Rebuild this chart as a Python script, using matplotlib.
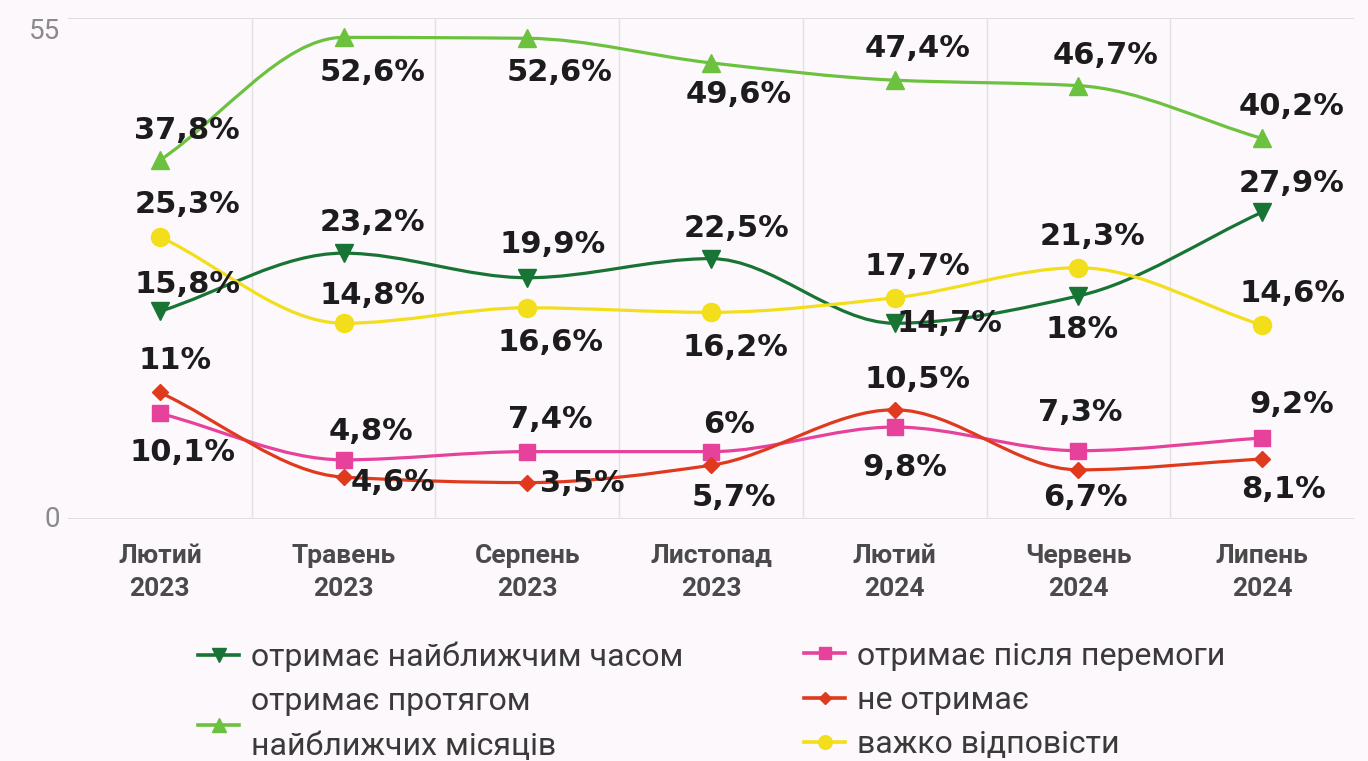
import numpy as np
import matplotlib.pyplot as plt
from matplotlib.path import Path
from matplotlib.patches import PathPatch
from matplotlib.lines import Line2D

# категорії (хвилі опитування)
periods = ["Лютий\n2023", "Травень\n2023", "Серпень\n2023", "Листопад\n2023",
           "Лютий\n2024", "Червень\n2024", "Липень\n2024"]

# висота точок на графіку (як вони намальовані)
soon = [22.8, 29.2, 26.5, 28.6, 21.5, 24.5, 33.7]
months = [39.4, 52.9, 52.8, 50.1, 48.2, 47.6, 41.8]
after_win = [11.6, 6.5, 7.4, 7.4, 10.1, 7.5, 8.9]
never = [13.9, 4.6, 4.0, 5.9, 12.0, 5.4, 6.6]
hard = [31.0, 21.5, 23.2, 22.7, 24.3, 27.6, 21.3]

# підписи значень
soon_lbl = ["15,8%", "23,2%", "19,9%", "22,5%", "14,7%", "18%", "27,9%"]
months_lbl = ["37,8%", "52,6%", "52,6%", "49,6%", "47,4%", "46,7%", "40,2%"]
after_win_lbl = ["10,1%", "4,8%", "7,4%", "6%", "9,8%", "7,3%", "9,2%"]
never_lbl = ["11%", "4,6%", "3,5%", "5,7%", "10,5%", "6,7%", "8,1%"]
hard_lbl = ["25,3%", "14,8%", "16,6%", "16,2%", "17,7%", "21,3%", "14,6%"]

# зсув підписів у пікселях (dx, dy)
soon_off = [(28, 27), (29, 31), (25, 33), (26, 30), (55, 0), (4, -34), (30, 29)]
months_off = [(27, 30), (29, -35), (32, -34), (28, -32), (23, 32), (27, 30), (30, 32)]
after_win_off = [(23, -39), (27, 28), (23, 32), (18, 27), (10, -40), (2, 38), (30, 33)]
never_off = [(15, 32), (49, -5), (55, -1), (23, -32), (23, 30), (7, -28), (21, -31)]
hard_off = [(28, 32), (29, 28), (23, -35), (24, -35), (23, 31), (14, 31), (30, 32)]

BG = "#fcf8fb"
C_SOON, C_MONTHS, C_HARD, C_WIN, C_NEVER = "#177434", "#6cc23f", "#f2de1a", "#e6429c", "#df3a1d"


def smooth(xs, ys):
    # monotone cubic -> bezier segments
    ys = np.asarray(ys, float)
    d = np.diff(ys)
    m = np.zeros(len(ys))
    m[0], m[-1] = d[0], d[-1]
    for i in range(1, len(ys) - 1):
        if d[i - 1] * d[i] > 0:
            m[i] = 2 / (1 / d[i - 1] + 1 / d[i])
    verts = [(xs[0], ys[0])]
    codes = [Path.MOVETO]
    for i in range(len(ys) - 1):
        verts += [(xs[i] + 1 / 3, ys[i] + m[i] / 3),
                  (xs[i + 1] - 1 / 3, ys[i + 1] - m[i + 1] / 3),
                  (xs[i + 1], ys[i + 1])]
        codes += [Path.CURVE4] * 3
    return Path(verts, codes)


plt.rcParams['font.family'] = ['Roboto', 'DejaVu Sans']

fig = plt.figure(figsize=(13.68, 7.61), dpi=100, facecolor=BG)
ax = fig.add_axes([0.0497, 0.318, 0.94, 0.658], facecolor=BG)

x = np.arange(len(periods))
series = [
    (months, months_lbl, months_off, C_MONTHS, "^", 13),
    (soon, soon_lbl, soon_off, C_SOON, "v", 13),
    (hard, hard_lbl, hard_off, C_HARD, "o", 13),
    (after_win, after_win_lbl, after_win_off, C_WIN, "s", 11),
    (never, never_lbl, never_off, C_NEVER, "D", 8),
]

for vals, lbls, offs, col, mk, ms in series:
    ax.add_patch(PathPatch(smooth(x, vals), fill=False, edgecolor=col,
                           lw=2.3, capstyle='round', zorder=3))
    ax.plot(x, vals, ls='none', marker=mk, ms=ms, color=col, zorder=4)
    for xi, v, t, (dx, dy) in zip(x, vals, lbls, offs):
        ax.annotate(t, (xi, v), xytext=(dx, dy), textcoords='offset pixels',
                    ha='center', va='center', fontsize=22, fontweight='bold',
                    family='DejaVu Sans', color='#1c1c1c', zorder=5)

ax.set_xlim(-0.5, 6.5)
ax.set_ylim(0, 55)
ax.set_yticks([0, 55])
ax.set_xticks(x)
ax.set_xticklabels(periods, fontsize=19, fontweight='bold', color='#4a4a4a',
                   linespacing=1.45)
ax.tick_params(axis='y', length=0, pad=6, labelsize=20, labelcolor='#8a8a8a')
ax.tick_params(axis='x', length=0, pad=18)
for lbl in ax.get_yticklabels():
    lbl.set_va('top' if lbl.get_text() == '55' else 'center')
for s in ax.spines.values():
    s.set_visible(False)
for yv in (0, 55):
    ax.axhline(yv, color='#d9d9d9', lw=1.2, zorder=1)
for xv in np.arange(0.5, 6, 1):
    ax.axvline(xv, color='#e2e2e2', lw=1, zorder=1)


def handle(col, mk, ms):
    return Line2D([], [], color=col, lw=2.6, marker=mk, ms=ms * 0.75)


leg_kw = dict(frameon=False, handlelength=1.3, handletextpad=0.35,
              labelspacing=0.48, borderpad=0, loc='upper left',
              prop={'size': 23}, labelcolor='#3a3a3a')
l1 = fig.legend([handle(C_SOON, "v", 13), handle(C_MONTHS, "^", 13)],
                ["отримає найближчим часом", "отримає протягом\nнайближчих місяців"],
                bbox_to_anchor=(0.133, 0.178), **leg_kw)
l2 = fig.legend([handle(C_WIN, "s", 11), handle(C_NEVER, "D", 8),
                 handle(C_HARD, "o", 13)],
                ["отримає після перемоги", "не отримає", "важко відповісти"],
                bbox_to_anchor=(0.576, 0.178), **leg_kw)
for t in l1.get_texts() + l2.get_texts():
    t.set_linespacing(1.65)

fig.savefig("out.png", dpi=100, facecolor=BG)
